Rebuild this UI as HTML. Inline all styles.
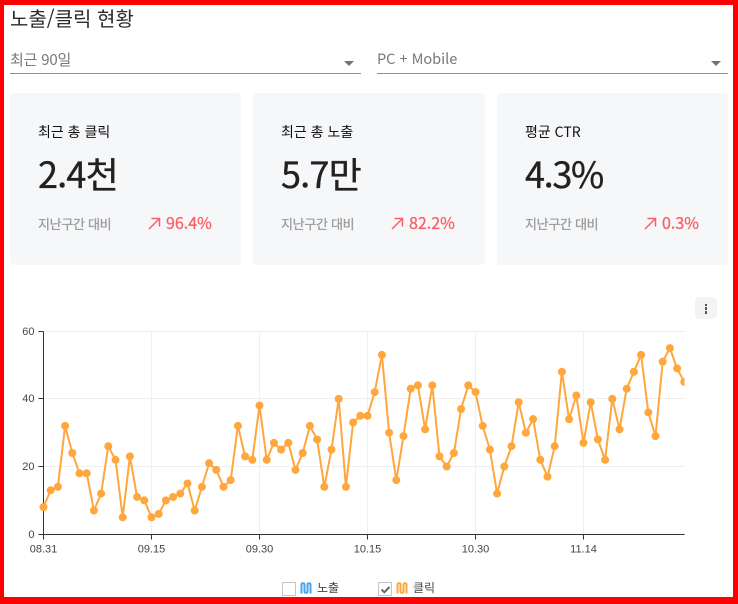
<!DOCTYPE html>
<html lang="ko">
<head>
<meta charset="utf-8">
<title>노출/클릭 현황</title>
<style>
html,body{margin:0;padding:0;background:#fff}
body{width:738px;height:604px;position:relative;overflow:hidden;font-family:"Liberation Sans","Noto Sans CJK KR",sans-serif}
.t{position:absolute;white-space:nowrap;font-family:"Noto Sans CJK KR","Liberation Sans",sans-serif;line-height:1}
.frame{position:absolute;left:0;top:0;width:738px;height:604px;box-sizing:border-box;border-style:solid;border-color:#f00;border-width:5px 5px 7px 4px;pointer-events:none;z-index:5}
.sel{position:absolute;top:73px;height:1px;background:#8f8f8f}
.arrow{position:absolute;top:61px;width:0;height:0;border-left:5px solid transparent;border-right:5px solid transparent;border-top:5px solid #6f757c}
.card{position:absolute;top:93px;height:172px;background:#f6f7f9;border-radius:3px}
.lab{font-size:14px;color:#111;top:125px}
.val{font-size:36px;color:#212121;top:155px;font-weight:400;letter-spacing:-.8px;-webkit-text-stroke:.35px #212121}
.cmp{font-size:13px;color:#9b9b9b;top:217px;font-weight:400;letter-spacing:-.3px;-webkit-text-stroke:.3px #9b9b9b}
.pct{font-size:16px;color:#fb5f66;top:214px;font-weight:400;-webkit-text-stroke:.3px #fb5f66}
.up{position:absolute;top:217px}
.menu{position:absolute;left:695px;top:297px;width:22px;height:22px;background:#f3f3f3;border-radius:4px}
.menu i{position:absolute;left:10px;width:2px;height:2.5px;background:#555}
.cb{position:absolute;top:582px;width:12px;height:12px;border:1.5px solid #c4c4c4;background:#fff}
svg{position:absolute}
</style>
</head>
<body>
<div class="frame"></div>
<div class="t" style="left:10px;top:8px;font-size:20px;color:#2b2b2b">노출/클릭 현황</div>

<div class="t" style="left:10px;top:52px;font-size:15px;color:#777;letter-spacing:-.2px">최근 90일</div>
<div class="sel" style="left:10px;width:351px"></div>
<div class="arrow" style="left:344px"></div>

<div class="t" style="left:377px;top:52px;font-size:14.5px;color:#777">PC + Mobile</div>
<div class="sel" style="left:377px;width:351px"></div>
<div class="arrow" style="left:711px"></div>

<div class="card" style="left:10px;width:231px"></div>
<div class="t lab" style="left:38px">최근 총 클릭</div>
<div class="t val" style="left:38px">2.4천</div>
<div class="t cmp" style="left:38px">지난구간 대비</div>
<svg class="up" style="left:148px" width="13" height="13" viewBox="0 0 13 13"><path d="M1 12 L11.5 1.5 M3.5 1.5 H11.5 V9.5" fill="none" stroke="#fb5f66" stroke-width="1.5"/></svg>
<div class="t pct" style="left:166px">96.4%</div>

<div class="card" style="left:253px;width:232px"></div>
<div class="t lab" style="left:281px">최근 총 노출</div>
<div class="t val" style="left:281px">5.7만</div>
<div class="t cmp" style="left:281px">지난구간 대비</div>
<svg class="up" style="left:391px" width="13" height="13" viewBox="0 0 13 13"><path d="M1 12 L11.5 1.5 M3.5 1.5 H11.5 V9.5" fill="none" stroke="#fb5f66" stroke-width="1.5"/></svg>
<div class="t pct" style="left:409px">82.2%</div>

<div class="card" style="left:497px;width:231px"></div>
<div class="t lab" style="left:525px">평균 CTR</div>
<div class="t val" style="left:525px;letter-spacing:-1.35px">4.3%</div>
<div class="t cmp" style="left:525px">지난구간 대비</div>
<svg class="up" style="left:644px" width="13" height="13" viewBox="0 0 13 13"><path d="M1 12 L11.5 1.5 M3.5 1.5 H11.5 V9.5" fill="none" stroke="#fb5f66" stroke-width="1.5"/></svg>
<div class="t pct" style="left:662px">0.3%</div>

<div class="menu"><i style="top:6.5px"></i><i style="top:10px"></i><i style="top:14px"></i></div>

<svg id="chart" style="left:0;top:0" width="738" height="604"></svg>

<div class="cb" style="left:282px"></div>
<svg style="left:300px;top:582px" width="12" height="12" viewBox="0 0 12 12"><path d="M1.5 11.5 V2.8 Q1.5 1.2 3 1.2 Q4.5 1.2 4.5 2.8 V9.2 Q4.5 10.8 6 10.8 Q7.5 10.8 7.5 9.2 V2.8 Q7.5 1.2 9 1.2 Q10.5 1.2 10.5 2.8 V11.5" fill="none" stroke="#4aa5ef" stroke-width="2"/></svg>
<div class="t" style="left:317px;top:582px;font-size:12px;color:#444">노출</div>
<div class="cb" style="left:378px"><svg style="left:.5px;top:.5px" width="11" height="11" viewBox="0 0 11 11"><path d="M1.5 5.5 L4.3 8.3 L9.5 3" fill="none" stroke="#666" stroke-width="2"/></svg></div>
<svg style="left:396px;top:582px" width="12" height="12" viewBox="0 0 12 12"><path d="M1.5 11.5 V2.8 Q1.5 1.2 3 1.2 Q4.5 1.2 4.5 2.8 V9.2 Q4.5 10.8 6 10.8 Q7.5 10.8 7.5 9.2 V2.8 Q7.5 1.2 9 1.2 Q10.5 1.2 10.5 2.8 V11.5" fill="none" stroke="#ffa63c" stroke-width="2"/></svg>
<div class="t" style="left:413px;top:582px;font-size:12px;color:#444">클릭</div>

<script>
const clicks = [8,13,14,32,24,18,18,7,12,26,22,5,23,11,10,5,6,10,11,12,15,7,14,21,19,14,16,32,23,22,38,22,27,25,27,19,24,32,28,14,25,40,14,33,35,35,42,53,30,16,29,43,44,31,44,23,20,24,37,44,42,32,25,12,20,26,39,30,34,22,17,26,48,34,41,27,39,28,22,40,31,43,48,53,36,29,51,55,49,45];
const xTickLabels = ['08.31','09.15','09.30','10.15','10.30','11.14'];
const xTickIndexes = [0,15,30,45,60,75];
const yTickValues = [0,20,40,60];

const svg = document.getElementById('chart');
const NS = 'http://www.w3.org/2000/svg';
const left = 43.5, right = 684.5, top0 = 331.2, bottom = 534.2, dayStep = 7.2, yMax = 60;
const xScale = i => left + i * dayStep;
const yScale = v => bottom - (v / yMax) * (bottom - top0);
const crisp = p => Math.floor(p) + 0.5;

function make(tag, attrs, parent) {
  const el = document.createElementNS(NS, tag);
  for (const k in attrs) el.setAttribute(k, attrs[k]);
  (parent || svg).appendChild(el);
  return el;
}

const defs = make('defs', {});
const clip = make('clipPath', {id: 'plot-clip'}, defs);
make('rect', {x: left - 6, y: top0 - 8, width: right - left + 6, height: bottom - top0 + 16}, clip);

yTickValues.forEach(v => {
  const y = crisp(yScale(v));
  if (v > 0) {
    const grid = make('line', {x1: left, x2: right, y1: y, y2: y, stroke: '#efefef', 'stroke-width': 1});
    
    
  }
  const tick = make('line', {x1: left - 5, x2: left, y1: y, y2: y, stroke: '#333', 'stroke-width': 1});
  
  
  const label = make('text', {x: left - 9, y: y + 3.5, 'text-anchor': 'end', 'font-size': 11, fill: '#444', 'font-family': '"Liberation Sans",sans-serif'});
  label.textContent = v;
  
  
});

xTickIndexes.forEach((idx, n) => {
  const x = crisp(xScale(idx));
  if (idx > 0) {
    const grid = make('line', {x1: x, x2: x, y1: crisp(top0), y2: crisp(bottom), stroke: '#efefef', 'stroke-width': 1});
    
    
  }
  const tick = make('line', {x1: x, x2: x, y1: crisp(bottom), y2: crisp(bottom) + 5, stroke: '#333', 'stroke-width': 1});
  
  
  const label = make('text', {x: x, y: crisp(bottom) + 18, 'text-anchor': 'middle', 'font-size': 11, fill: '#444', 'font-family': '"Liberation Sans",sans-serif'});
  label.textContent = xTickLabels[n];
  
  
});

const yAxis = make('line', {x1: left, x2: left, y1: crisp(top0), y2: crisp(bottom), stroke: '#333', 'stroke-width': 1});


const xAxis = make('line', {x1: left, x2: right, y1: crisp(bottom), y2: crisp(bottom), stroke: '#333', 'stroke-width': 1});



const series = make('g', {'clip-path': 'url(#plot-clip)'});


const line = make('polyline', {points: clicks.map((v, i) => xScale(i) + ',' + yScale(v)).join(' '), fill: 'none', stroke: '#ffa63c', 'stroke-width': 2}, series);


clicks.forEach((v, i) => {
  const dot = make('circle', {cx: xScale(i), cy: yScale(v), r: 4, fill: '#ffa63c'}, series);
  
  
});
</script>
</body>
</html>
